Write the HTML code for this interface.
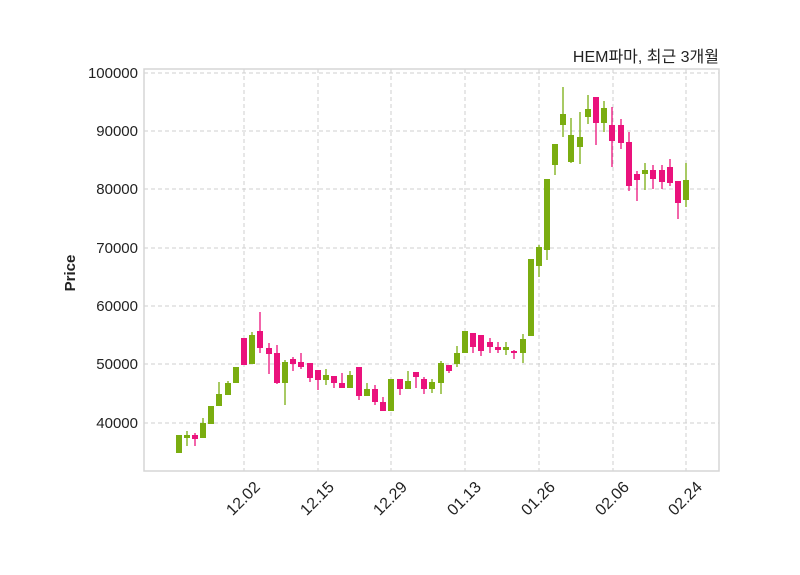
<!DOCTYPE html>
<html><head><meta charset="utf-8"><style>body{margin:0;background:#fff}svg{display:block}</style></head><body>
<svg width="800" height="575" xmlns="http://www.w3.org/2000/svg" font-family="Liberation Sans, sans-serif">
<rect width="800" height="575" fill="#fff"/>
<g stroke="#cfcfcf" stroke-dasharray="4,3" stroke-width="1">
<line x1="144" x2="719" y1="73" y2="73"/><line x1="144" x2="719" y1="131" y2="131"/><line x1="144" x2="719" y1="189" y2="189"/><line x1="144" x2="719" y1="248" y2="248"/><line x1="144" x2="719" y1="306" y2="306"/><line x1="144" x2="719" y1="364" y2="364"/><line x1="144" x2="719" y1="423" y2="423"/>
<line y1="69" y2="471" x1="244" x2="244"/><line y1="69" y2="471" x1="318" x2="318"/><line y1="69" y2="471" x1="391" x2="391"/><line y1="69" y2="471" x1="465" x2="465"/><line y1="69" y2="471" x1="539" x2="539"/><line y1="69" y2="471" x1="613" x2="613"/><line y1="69" y2="471" x1="686" x2="686"/>
</g>
<rect x="144" y="69" width="575" height="402" fill="none" stroke="#d6d6d6" stroke-width="1.5"/>
<g font-size="15" fill="#222" text-anchor="end">
<text x="138" y="78">100000</text><text x="138" y="136">90000</text><text x="138" y="194">80000</text><text x="138" y="253">70000</text><text x="138" y="311">60000</text><text x="138" y="369">50000</text><text x="138" y="428">40000</text>
</g>
<g font-size="16" fill="#222" text-anchor="end">
<text transform="translate(261,488) rotate(-45)">12.02</text>
<text transform="translate(335,488) rotate(-45)">12.15</text>
<text transform="translate(408,488) rotate(-45)">12.29</text>
<text transform="translate(482,488) rotate(-45)">01.13</text>
<text transform="translate(556,488) rotate(-45)">01.26</text>
<text transform="translate(630,488) rotate(-45)">02.06</text>
<text transform="translate(703,488) rotate(-45)">02.24</text>
</g>
<text transform="translate(75,273) rotate(-90)" font-size="15" font-weight="bold" text-anchor="middle" fill="#222">Price</text>
<text x="719" y="62" font-size="16" text-anchor="end" fill="#222" font-family="Liberation Sans, Noto Sans CJK KR, sans-serif">HEM파마, 최근 3개월</text>
<g fill="#7aad10" stroke="#7aad10" stroke-width="1.3">
<line x1="179" x2="179" y1="435" y2="453"/><rect x="176" y="435" width="6" height="18" stroke="none"/>
<line x1="187" x2="187" y1="431" y2="446"/><rect x="184" y="435" width="6" height="3" stroke="none"/>
<line x1="203" x2="203" y1="418" y2="438"/><rect x="200" y="423" width="6" height="15" stroke="none"/>
<line x1="211" x2="211" y1="406" y2="424"/><rect x="208" y="406" width="6" height="18" stroke="none"/>
<line x1="219" x2="219" y1="382" y2="406"/><rect x="216" y="394" width="6" height="12" stroke="none"/>
<line x1="228" x2="228" y1="381" y2="395"/><rect x="225" y="383" width="6" height="12" stroke="none"/>
<line x1="236" x2="236" y1="367" y2="383"/><rect x="233" y="367" width="6" height="16" stroke="none"/>
<line x1="252" x2="252" y1="332" y2="364"/><rect x="249" y="335" width="6" height="29" stroke="none"/>
<line x1="285" x2="285" y1="360" y2="405"/><rect x="282" y="362" width="6" height="21" stroke="none"/>
<line x1="326" x2="326" y1="369" y2="385"/><rect x="323" y="375" width="6" height="5" stroke="none"/>
<line x1="350" x2="350" y1="371" y2="388"/><rect x="347" y="375" width="6" height="13" stroke="none"/>
<line x1="367" x2="367" y1="383" y2="396"/><rect x="364" y="389" width="6" height="7" stroke="none"/>
<line x1="391" x2="391" y1="379" y2="411"/><rect x="388" y="379" width="6" height="32" stroke="none"/>
<line x1="408" x2="408" y1="371" y2="389"/><rect x="405" y="381" width="6" height="8" stroke="none"/>
<line x1="432" x2="432" y1="379" y2="393"/><rect x="429" y="382" width="6" height="7" stroke="none"/>
<line x1="441" x2="441" y1="361" y2="394"/><rect x="438" y="363" width="6" height="20" stroke="none"/>
<line x1="457" x2="457" y1="346" y2="367"/><rect x="454" y="353" width="6" height="11" stroke="none"/>
<line x1="465" x2="465" y1="331" y2="353"/><rect x="462" y="331" width="6" height="22" stroke="none"/>
<line x1="506" x2="506" y1="342" y2="355"/><rect x="503" y="347" width="6" height="3" stroke="none"/>
<line x1="523" x2="523" y1="334" y2="363"/><rect x="520" y="339" width="6" height="14" stroke="none"/>
<line x1="531" x2="531" y1="259" y2="336"/><rect x="528" y="259" width="6" height="77" stroke="none"/>
<line x1="539" x2="539" y1="245" y2="277"/><rect x="536" y="247" width="6" height="19" stroke="none"/>
<line x1="547" x2="547" y1="179" y2="260"/><rect x="544" y="179" width="6" height="71" stroke="none"/>
<line x1="555" x2="555" y1="144" y2="175"/><rect x="552" y="144" width="6" height="21" stroke="none"/>
<line x1="563" x2="563" y1="87" y2="137"/><rect x="560" y="114" width="6" height="11" stroke="none"/>
<line x1="571" x2="571" y1="118" y2="163"/><rect x="568" y="135" width="6" height="27" stroke="none"/>
<line x1="580" x2="580" y1="112" y2="164"/><rect x="577" y="137" width="6" height="10" stroke="none"/>
<line x1="588" x2="588" y1="95" y2="124"/><rect x="585" y="109" width="6" height="8" stroke="none"/>
<line x1="604" x2="604" y1="101" y2="132"/><rect x="601" y="108" width="6" height="15" stroke="none"/>
<line x1="645" x2="645" y1="163" y2="190"/><rect x="642" y="170" width="6" height="4" stroke="none"/>
<line x1="686" x2="686" y1="163" y2="207"/><rect x="683" y="180" width="6" height="20" stroke="none"/>
</g>
<g fill="#ea127c" stroke="#ea127c" stroke-width="1.3">
<line x1="195" x2="195" y1="433" y2="446"/><rect x="192" y="435" width="6" height="4" stroke="none"/>
<line x1="244" x2="244" y1="338" y2="365"/><rect x="241" y="338" width="6" height="27" stroke="none"/>
<line x1="260" x2="260" y1="312" y2="353"/><rect x="257" y="331" width="6" height="17" stroke="none"/>
<line x1="269" x2="269" y1="343" y2="374"/><rect x="266" y="348" width="6" height="6" stroke="none"/>
<line x1="277" x2="277" y1="345" y2="384"/><rect x="274" y="353" width="6" height="30" stroke="none"/>
<line x1="293" x2="293" y1="357" y2="371"/><rect x="290" y="359" width="6" height="5" stroke="none"/>
<line x1="301" x2="301" y1="353" y2="369"/><rect x="298" y="362" width="6" height="5" stroke="none"/>
<line x1="310" x2="310" y1="363" y2="382"/><rect x="307" y="363" width="6" height="15" stroke="none"/>
<line x1="318" x2="318" y1="370" y2="390"/><rect x="315" y="370" width="6" height="10" stroke="none"/>
<line x1="334" x2="334" y1="376" y2="388"/><rect x="331" y="376" width="6" height="7" stroke="none"/>
<line x1="342" x2="342" y1="373" y2="388"/><rect x="339" y="383" width="6" height="5" stroke="none"/>
<line x1="359" x2="359" y1="367" y2="400"/><rect x="356" y="367" width="6" height="29" stroke="none"/>
<line x1="375" x2="375" y1="385" y2="405"/><rect x="372" y="389" width="6" height="13" stroke="none"/>
<line x1="383" x2="383" y1="397" y2="411"/><rect x="380" y="402" width="6" height="9" stroke="none"/>
<line x1="400" x2="400" y1="379" y2="395"/><rect x="397" y="379" width="6" height="10" stroke="none"/>
<line x1="416" x2="416" y1="372" y2="388"/><rect x="413" y="372" width="6" height="5" stroke="none"/>
<line x1="424" x2="424" y1="377" y2="394"/><rect x="421" y="379" width="6" height="10" stroke="none"/>
<line x1="449" x2="449" y1="365" y2="373"/><rect x="446" y="365" width="6" height="6" stroke="none"/>
<line x1="473" x2="473" y1="333" y2="353"/><rect x="470" y="333" width="6" height="14" stroke="none"/>
<line x1="481" x2="481" y1="335" y2="356"/><rect x="478" y="335" width="6" height="16" stroke="none"/>
<line x1="490" x2="490" y1="338" y2="353"/><rect x="487" y="342" width="6" height="5" stroke="none"/>
<line x1="498" x2="498" y1="342" y2="353"/><rect x="495" y="347" width="6" height="3" stroke="none"/>
<line x1="514" x2="514" y1="350" y2="359"/><rect x="511" y="351" width="6" height="2" stroke="none"/>
<line x1="596" x2="596" y1="97" y2="145"/><rect x="593" y="97" width="6" height="26" stroke="none"/>
<line x1="612" x2="612" y1="107" y2="167"/><rect x="609" y="125" width="6" height="16" stroke="none"/>
<line x1="621" x2="621" y1="119" y2="149"/><rect x="618" y="125" width="6" height="18" stroke="none"/>
<line x1="629" x2="629" y1="132" y2="191"/><rect x="626" y="142" width="6" height="44" stroke="none"/>
<line x1="637" x2="637" y1="171" y2="201"/><rect x="634" y="174" width="6" height="6" stroke="none"/>
<line x1="653" x2="653" y1="165" y2="189"/><rect x="650" y="170" width="6" height="9" stroke="none"/>
<line x1="662" x2="662" y1="165" y2="189"/><rect x="659" y="170" width="6" height="12" stroke="none"/>
<line x1="670" x2="670" y1="159" y2="186"/><rect x="667" y="167" width="6" height="16" stroke="none"/>
<line x1="678" x2="678" y1="181" y2="219"/><rect x="675" y="181" width="6" height="22" stroke="none"/>
</g>
</svg>
</body></html>
